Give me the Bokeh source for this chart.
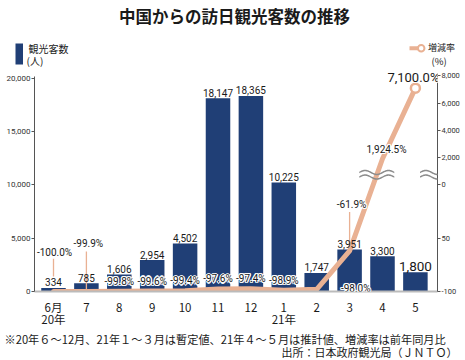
import numpy as np
from bokeh.plotting import figure
from bokeh.layouts import column
from bokeh.models import (ColumnDataSource, Range1d, LinearAxis, FixedTicker, LabelSet, Label,
                          PolyAnnotation, NumeralTickFormatter)
from bokeh.core.properties import value, field
from bokeh.embed import file_html
from bokeh.resources import INLINE

# ---------------- data ----------------
month_labels = ["6月\n20年", "7", "8", "9", "10", "11", "12", "1\n21年", "2", "3", "4", "5"]
visitors = [334, 785, 1606, 2954, 4502, 18147, 18365, 10225, 1747, 3951, 3300, 1800]
change_pct = [-100.0, -99.9, -99.8, -99.6, -99.4, -97.6, -97.4, -98.9, -98.0, -61.9, 1924.5, 7100.0]
visitor_ticks = [0, 5000, 10000, 15000, 20000]
pct_ticks = [-100, -50, 0, 2000, 4000, 6000, 8000]
pct_tick_labels = ["-100", "50", "0", "2,000", "4,000", "6,000", "8,000"]

title_text = "中国からの訪日観光客数の推移"
bar_legend = ["観光客数", "(人)"]
line_legend = ["増減率", "(%)"]
note_text = "※20年６～12月、21年１～３月は暫定値、21年４～５月は推計値、増減率は前年同月比"
source_text = "出所：日本政府観光局（ＪＮＴＯ）"

# ---------------- broken right scale ----------------
LOW_UNITS_PER_PCT = 100.0    # -100..0 %   -> 0..10000 display units
HIGH_UNITS_PER_PCT = 1.28    # 0..8000 %   -> 10000..20240 display units
BREAK_MARK_PCT = 750.0


def pct_to_disp(v):
    if v <= 0:
        return round((v + 100.0) * LOW_UNITS_PER_PCT, 6)
    return round(10000.0 + v * HIGH_UNITS_PER_PCT, 6)


# ---------------- geometry (page pixels) ----------------
W = 465
TOP_H = 68
FL, FR = 34, 437            # main frame left / right
FT, FB = TOP_H, 292         # main frame top / bottom (page y)
XAX_H = 38                  # room under the main frame for month labels
MAIN_H = (FB - FT) + XAX_H
BOT_TOP = FT + MAIN_H
BOT_H = 360 - BOT_TOP
PPX = 32.9                  # pixels per category
UPY = 93.46                 # value units per pixel
X0 = -(53 - FL) / PPX
X1 = X0 + (FR - FL) / PPX
Y0, Y1 = 0.0, (FB - FT) * UPY


def dx(px):
    return px / PPX


def dy(px):
    return px * UPY


NAVY = "#203f76"
ORANGE = "#e9b193"
TXT = "#1a1a1a"
NUM = "Roboto"
JP = "Noto Sans CJK JP"

# ---------------- main chart ----------------
p = figure(width=W, height=MAIN_H, x_range=Range1d(X0, X1), y_range=Range1d(Y0, Y1),
           output_backend="svg", toolbar_location=None, title=None,
           min_border_left=FL, min_border_right=W - FR, min_border_top=0,
           min_border_bottom=XAX_H)
p.frame_align = False
p.outline_line_color = None
p.grid.visible = False
p.extra_y_ranges = {"pct": Range1d(Y0, Y1)}

xa = p.xaxis[0]
xa.ticker = FixedTicker(ticks=list(range(len(month_labels))))
xa.major_label_overrides = {i: lab for i, lab in enumerate(month_labels)}
xa.axis_line_color = "#bbbbbb"
xa.axis_line_width = 2
xa.major_tick_line_color = None
xa.minor_tick_line_color = None
xa.major_label_text_font = JP
xa.major_label_text_font_size = "11.5px"
xa.major_label_text_color = TXT
xa.major_label_standoff = 1
xa.major_label_text_line_height = 0.8

ya = p.yaxis[0]
ya.ticker = FixedTicker(ticks=visitor_ticks)
ya.formatter = NumeralTickFormatter(format="0,0")
ya.bounds = (0, 20140)
ya.axis_line_color = "#555555"
ya.major_tick_line_color = "#555555"
ya.major_tick_out = 3
ya.major_tick_in = 0
ya.minor_tick_line_color = None
ya.major_label_text_font = NUM
ya.major_label_text_font_size = "8px"
ya.major_label_text_color = "#333333"
ya.major_label_standoff = 1

ra = LinearAxis(y_range_name="pct",
                ticker=FixedTicker(ticks=[pct_to_disp(v) for v in pct_ticks]),
                major_label_overrides={pct_to_disp(v): lab for v, lab in zip(pct_ticks, pct_tick_labels)},
                bounds=(0, 20420))
ra.axis_line_color = "#555555"
ra.major_tick_line_color = "#555555"
ra.major_tick_out = 3
ra.major_tick_in = 0
ra.minor_tick_line_color = None
ra.major_label_text_font = NUM
ra.major_label_text_font_size = "7.5px"
ra.major_label_text_color = "#333333"
ra.major_label_standoff = 1
p.add_layout(ra, "right")

xs = list(range(len(visitors)))
disp = [pct_to_disp(v) for v in change_pct]
src = ColumnDataSource(dict(x=xs, visitors=visitors, disp=disp))
p.vbar(x="x", top="visitors", width=0.745, source=src, fill_color=NAVY, line_color=None)

# leader lines (pixels above the point)
leaders = {0: (15, 33), 1: (0, 40), 9: (2, 39)}
lx, ly0, ly1 = [], [], []
for i, (a, b) in leaders.items():
    lx.append(xs[i])
    ly0.append(disp[i] + dy(a))
    ly1.append(disp[i] + dy(b))

# value labels
val_fs = ["10px"] * (len(visitors) - 1) + ["13.5px"]
val_src = ColumnDataSource(dict(
    x=xs, y=[v + dy(1.5) for v in visitors], text=[f"{v:,}" for v in visitors], fs=val_fs))
p.add_layout(LabelSet(x="x", y="y", text="text", source=val_src, text_align="center",
                      text_baseline="bottom", text_font=value(NUM),
                      text_font_size=field("fs"), text_color=TXT))

p.segment(x0=lx, y0=ly0, x1=lx, y1=ly1, y_range_name="pct", line_color=ORANGE, line_width=1.3)

# line
p.line(x="x", y="disp", source=src, y_range_name="pct", line_color=ORANGE, line_width=5,
       line_join="round", line_cap="round")
end_src = ColumnDataSource(dict(x=[xs[-1]], y=[disp[-1]]))
p.scatter(x="x", y="y", source=end_src, y_range_name="pct", size=9, fill_color="white",
          line_color=ORANGE, line_width=2.5)


# axis break marks
def wave_band(xc, yc, width_px=35, amp_px=2.0, cycles=1.5, thick_px=1.6):
    t = np.linspace(0, 1, 80)
    xw = xc + dx(-width_px / 2 + t * width_px)
    yw = yc + dy(amp_px * np.sin(2 * np.pi * cycles * t))
    xs_poly = list(xw) + list(xw[::-1])
    ys_poly = list(yw + dy(thick_px / 2)) + list((yw - dy(thick_px / 2))[::-1])
    return xs_poly, ys_poly


yb = pct_to_disp(BREAK_MARK_PCT)
i_b = next(i for i in range(len(disp) - 1) if disp[i] < yb <= disp[i + 1])
x_cross = xs[i_b] + (yb - disp[i_b]) / (disp[i_b + 1] - disp[i_b])
for xc in (x_cross, X1):
    for off in (dy(2.3), -dy(2.3)):
        bx, by = wave_band(xc, yb + off)
        p.add_layout(PolyAnnotation(xs=bx, ys=by, fill_color="#8c8c8c", fill_alpha=1,
                                    line_color=None, y_range_name="pct"))

# percent labels (white halo layers + text layer)
pct_offsets = {0: (1, 39), 1: (2, 48), 8: (39, 1), 9: (2, 47), 10: (4, 9.5), 11: (-2, 11)}
px_, py_, pt_, pfs = [], [], [], []
for i, v in enumerate(change_pct):
    ox, oy = pct_offsets.get(i, (0, 10))
    px_.append(xs[i] + dx(ox))
    py_.append(disp[i] + dy(oy))
    pt_.append(f"{v:,.1f}%")
    pfs.append("13px" if i == len(change_pct) - 1 else "10px")
pct_src = ColumnDataSource(dict(x=px_, y=py_, text=pt_, fs=pfs))
common = dict(x="x", y="y", text="text", source=pct_src, y_range_name="pct",
              text_align="center", text_baseline="middle",
              text_font=value(NUM), text_font_size=field("fs"))
halo_shifts = [(-1.2, 0), (1.2, 0), (0, -1.2), (0, 1.2), (-0.9, -0.9), (0.9, -0.9), (-0.9, 0.9), (0.9, 0.9)]
for ox, oy in halo_shifts:
    p.add_layout(LabelSet(text_color="white", x_offset=ox, y_offset=oy, **common))
p.add_layout(LabelSet(text_color=TXT, **common))

# ---------------- header (title + legend) ----------------
top = figure(width=W, height=TOP_H, x_range=Range1d(0, W), y_range=Range1d(TOP_H, 0),
             output_backend="svg", toolbar_location=None, title=None, min_border=0,
             x_axis_location=None, y_axis_location=None)
top.frame_align = False
top.outline_line_color = None
top.grid.visible = False
top.add_layout(Label(x=234, y=15, text=title_text, text_align="center", text_baseline="middle",
                     text_font=JP, text_font_style="bold", text_font_size="16.5px", text_color=TXT))
top.quad(left=[15], right=[22.5], top=[43], bottom=[64], fill_color=NAVY, line_color=None)
top.add_layout(Label(x=28, y=48, text=bar_legend[0], text_baseline="middle",
                     text_font=JP, text_font_size="10px", text_color=TXT))
top.add_layout(Label(x=26, y=59.5, text=bar_legend[1], text_baseline="middle",
                     text_font=JP, text_font_size="10px", text_color=TXT))
top.segment(x0=[409], y0=[47.7], x1=[418], y1=[47.7], line_color=ORANGE, line_width=4)
top.scatter(x=[420.7], y=[47.7], size=6.5, fill_color="white", line_color=ORANGE, line_width=2)
top.add_layout(Label(x=427.5, y=47, text=line_legend[0], text_baseline="middle",
                     text_font=JP, text_font_size="9px", text_color=TXT))
top.add_layout(Label(x=431, y=60.5, text=line_legend[1], text_baseline="middle",
                     text_font=JP, text_font_size="9.5px", text_color=TXT))

# ---------------- footer (notes) ----------------
bot = figure(width=W, height=BOT_H, x_range=Range1d(0, W), y_range=Range1d(BOT_TOP + BOT_H, BOT_TOP),
             output_backend="svg", toolbar_location=None, title=None, min_border=0,
             x_axis_location=None, y_axis_location=None)
bot.frame_align = False
bot.outline_line_color = None
bot.grid.visible = False
bot.add_layout(Label(x=4, y=338, text=note_text, text_align="left", text_baseline="middle",
                     text_font=JP, text_font_size="11.2px", text_color=TXT))
bot.add_layout(Label(x=457, y=351, text=source_text, text_align="right", text_baseline="middle",
                     text_font=JP, text_font_size="11px", text_color=TXT))

layout = column(top, p, bot, spacing=0)
open("out.html", "w").write(file_html(layout, INLINE))
